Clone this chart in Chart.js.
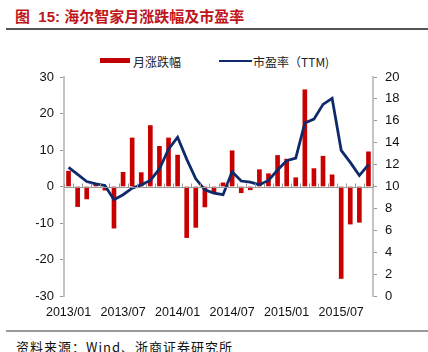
<!DOCTYPE html>
<html>
<head>
<meta charset="utf-8">
<script src="https://cdn.jsdelivr.net/npm/chart.js@4.4.1/dist/chart.umd.min.js"></script>
<style>
  html, body { margin: 0; padding: 0; background: #fff; }
  body { width: 428px; height: 352px; position: relative; overflow: hidden; font-family: "Liberation Sans", Arial, sans-serif; }
  #title { position: absolute; left: 15px; top: 5px; font: bold 15px "Liberation Sans", "Noto Sans CJK SC", sans-serif; color: #c0151b; white-space: nowrap; }
  #title .cn { font-family: "Noto Sans CJK SC", sans-serif; }
  #ruleTop { position: absolute; left: 6px; right: 0; top: 28px; height: 2px; background: #555; }
  #ruleBottom { position: absolute; left: 6px; right: 0; top: 330px; height: 2px; background: #999; }
  #source { position: absolute; left: 16px; top: 337px; font: 13px "Noto Sans CJK SC", serif; letter-spacing: 1px; color: #111; white-space: nowrap; }
  .legend { position: absolute; top: 53px; font: 12px "Noto Sans CJK SC", sans-serif; color: #222; white-space: nowrap; }
  .swatch { position: absolute; }
  #wrap { position: absolute; left: 0; top: 40px; width: 428px; height: 290px; }
</style>
</head>
<body>
<div id="title">图&nbsp;&nbsp;15: <span class="cn">海尔智家月涨跌幅及市盈率</span></div>
<div id="ruleTop"></div>

<div class="swatch" style="left:100px; top:58px; width:30px; height:5px; background:#c00000;"></div>
<div class="legend" style="left:133px;">月涨跌幅</div>
<div class="swatch" style="left:219px; top:60px; width:33px; height:2px; background:#0f2a6b;"></div>
<div class="legend" style="left:253px;">市盈率（TTM)</div>

<div id="wrap"><canvas id="chart"></canvas></div>

<div id="ruleBottom"></div>
<div id="source">资料来源：Wind、浙商证券研究所</div>

<script>
const months = [
  "2013/01", "2013/02", "2013/03", "2013/04", "2013/05", "2013/06",
  "2013/07", "2013/08", "2013/09", "2013/10", "2013/11", "2013/12",
  "2014/01", "2014/02", "2014/03", "2014/04", "2014/05", "2014/06",
  "2014/07", "2014/08", "2014/09", "2014/10", "2014/11", "2014/12",
  "2015/01", "2015/02", "2015/03", "2015/04", "2015/05", "2015/06",
  "2015/07", "2015/08", "2015/09", "2015/10"
];

// 月涨跌幅 (%)
const changeValues = [
  4.2, -5.5, -3.4, 0.9, -1.0, -11.4,
  3.9, 13.3, 3.8, 16.7, 11.0, 13.3,
  8.6, -14.0, -11.2, -5.6, -1.6, 1.0,
  9.8, -1.7, -0.9, 4.6, 3.5, 8.5,
  7.5, 2.4, 26.5, 4.9, 8.3, 3.2,
  -25.2, -10.3, -9.8, 9.5
];

// 市盈率 (TTM)
const peValues = [
  11.75, 11.1, 10.45, 10.25, 10.1, 8.8,
  9.25, 9.85, 10.15, 10.55, 11.6, 13.4,
  14.5, 12.5, 10.7, 9.7, 9.4, 9.25,
  11.35, 10.5, 10.4, 10.15, 10.55, 11.5,
  12.35, 12.6, 15.8, 16.15, 17.5, 18.05,
  13.3, 12.2, 11.0, 12.0
];

const xTickLabels = ["2013/01", "2013/07", "2014/01", "2014/07", "2015/01", "2015/07"];

const tickFont = { family: "'Liberation Sans', Arial, sans-serif", size: 13 };

// zero line with small category ticks
const zeroLine = {
  id: "zeroLine",
  afterDatasetsDraw(chart) {
    const { ctx, chartArea, scales } = chart;
    const y = Math.round(scales.y.getPixelForValue(0)) + 0.5;
    const x = scales.x;
    const half = (x.getPixelForValue(1) - x.getPixelForValue(0)) / 2;
    ctx.save();
    ctx.strokeStyle = "#9a9a9a";
    ctx.lineWidth = 1;
    ctx.beginPath();
    ctx.moveTo(chartArea.left, y);
    ctx.lineTo(chartArea.right, y);
    for (let i = 0; i <= months.length; i++) {
      const px = Math.round(x.getPixelForValue(i) - half) + 0.5;
      ctx.moveTo(px, y);
      ctx.lineTo(px, y - 4);
    }
    ctx.stroke();
    ctx.restore();
  }
};

new Chart(document.getElementById("chart"), {
  type: "bar",
  data: {
    labels: months,
    datasets: [
      {
        type: "line",
        label: "市盈率（TTM)",
        data: peValues,
        yAxisID: "y1",
        borderColor: "#0f2a6b",
        borderWidth: 2.8,
        pointRadius: 0,
        tension: 0,
        order: 0
      },
      {
        label: "月涨跌幅",
        data: changeValues,
        yAxisID: "y",
        backgroundColor: "#c80000",
        barThickness: 4,
        order: 1
      }
    ]
  },
  options: {
    responsive: true,
    maintainAspectRatio: false,
    animation: false,
    layout: { padding: { top: 37, bottom: 4, left: 0, right: 0 } },
    plugins: { legend: { display: false }, tooltip: { enabled: false } },
    scales: {
      x: {
        offset: true,
        grid: { display: false, drawTicks: false },
        border: { display: false },
        ticks: {
          autoSkip: false,
          maxRotation: 0,
          padding: 9,
          color: "#111",
          font: { family: tickFont.family, size: 12.5 },
          callback: function (v, i) {
            const lab = months[i];
            return xTickLabels.includes(lab) ? lab : "";
          }
        },
        afterFit: (s) => { s.height = 30; }
      },
      y: {
        position: "left",
        min: -30,
        max: 30,
        ticks: { stepSize: 10, color: "#111", font: tickFont, padding: 6 },
        grid: { drawOnChartArea: false, drawTicks: true, tickLength: 4, color: "#999" },
        border: { color: "#c4c4c4", width: 2 },
        afterFit: (s) => { s.width = 64; }
      },
      y1: {
        position: "right",
        min: 0,
        max: 20,
        ticks: { stepSize: 2, color: "#111", font: tickFont, padding: 8 },
        grid: { drawOnChartArea: false, drawTicks: true, tickLength: 4, color: "#999" },
        border: { color: "#c4c4c4", width: 2 },
        afterFit: (s) => { s.width = 55; }
      }
    }
  },
  plugins: [zeroLine]
});
</script>
</body>
</html>
